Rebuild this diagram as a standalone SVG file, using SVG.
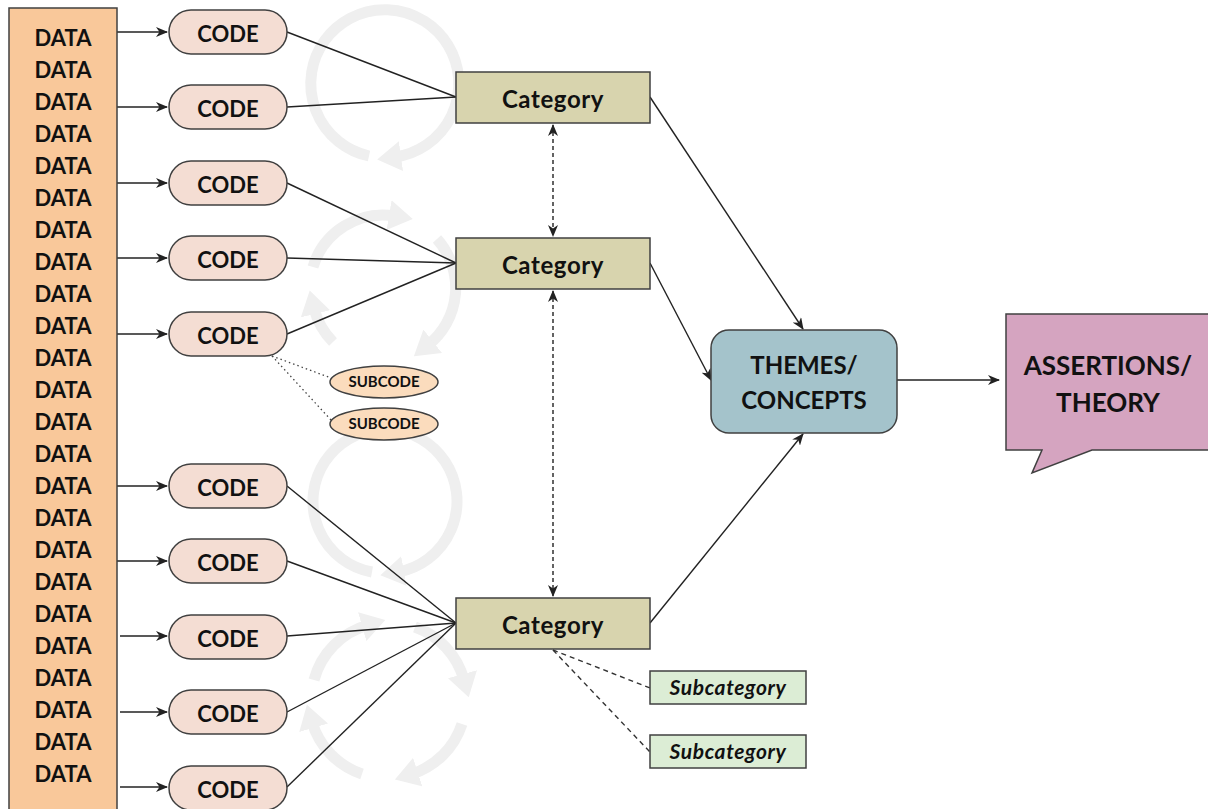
<svg xmlns="http://www.w3.org/2000/svg" width="1208" height="809" viewBox="0 0 1208 809">
  <defs>
    <style>
      text { font-family: Lato, "Open Sans", "Liberation Sans", sans-serif; font-weight: bold; fill: #111; text-anchor: middle; }
      .data { font-size: 22px; }
      .code { font-size: 22px; }
      .cat { font-size: 24px; letter-spacing: 0.6px; }
      .big { font-size: 24px; }
      .huge { font-size: 26px; }
      .sub { font-size: 15px; }
      .subcat { font-size: 21px; font-style: italic; letter-spacing: 0.6px; }
      .box { stroke: #404040; stroke-width: 1.5; }
      .link { stroke: #222; stroke-width: 1.4; fill: none; }
      .ring { stroke: #efefef; stroke-width: 11; fill: none; }
    </style>
    <marker id="arr" viewBox="0 0 12 10" refX="11" refY="5" markerWidth="12" markerHeight="10" markerUnits="userSpaceOnUse" orient="auto-start-reverse">
      <path d="M0,0 L12,5 L0,10 L3.5,5 z" fill="#222"/>
    </marker>
    <marker id="ringhead" viewBox="0 0 30 30" refX="6" refY="15" markerWidth="30" markerHeight="30" markerUnits="userSpaceOnUse" orient="auto">
      <path d="M0,0 L24,15 L0,30 z" fill="#efefef"/>
    </marker>
  </defs>

  <rect width="1208" height="809" fill="#ffffff"/>

  <!-- faint cycle rings behind the coding stage -->
  <g id="cycles">
    <!-- upper ring -->
    <path class="ring" d="M369,156 A74,74 0 1 1 395,157" marker-end="url(#ringhead)"/>
    <!-- second ring, three arcs -->
    <path class="ring" d="M333,342 A73,73 0 0 1 314,308" marker-end="url(#ringhead)"/>
    <path class="ring" d="M313,267 A73,73 0 0 1 395,216" marker-end="url(#ringhead)"/>
    <path class="ring" d="M437,239 A73,73 0 0 1 428,345" marker-end="url(#ringhead)"/>
    <!-- third ring -->
    <path class="ring" d="M372,572 A72,72 0 1 1 398,572" marker-end="url(#ringhead)"/>
    <!-- lower ring, four arcs -->
    <path class="ring" d="M314,680 A78,78 0 0 1 368,625" marker-end="url(#ringhead)"/>
    <path class="ring" d="M415,627 A78,78 0 0 1 464,680" marker-end="url(#ringhead)"/>
    <path class="ring" d="M462,724 A78,78 0 0 1 412,774" marker-end="url(#ringhead)"/>
    <path class="ring" d="M362,774 A78,78 0 0 1 312,722" marker-end="url(#ringhead)"/>
  </g>

  <g id="connectors">
    <!-- data to codes -->
    <line class="link" x1="117" y1="32" x2="167" y2="32" marker-end="url(#arr)"/>
    <line class="link" x1="117" y1="107" x2="167" y2="107" marker-end="url(#arr)"/>
    <line class="link" x1="117" y1="183" x2="167" y2="183" marker-end="url(#arr)"/>
    <line class="link" x1="117" y1="258" x2="167" y2="258" marker-end="url(#arr)"/>
    <line class="link" x1="117" y1="334" x2="167" y2="334" marker-end="url(#arr)"/>
    <line class="link" x1="117" y1="486" x2="167" y2="486" marker-end="url(#arr)"/>
    <line class="link" x1="117" y1="561" x2="167" y2="561" marker-end="url(#arr)"/>
    <line class="link" x1="120" y1="636" x2="167" y2="636" marker-end="url(#arr)"/>
    <line class="link" x1="120" y1="712" x2="167" y2="712" marker-end="url(#arr)"/>
    <line class="link" x1="120" y1="787" x2="167" y2="787" marker-end="url(#arr)"/>
    <!-- codes to categories -->
    <line class="link" x1="287" y1="32" x2="456" y2="97"/>
    <line class="link" x1="287" y1="107" x2="456" y2="97"/>
    <line class="link" x1="287" y1="183" x2="456" y2="263"/>
    <line class="link" x1="287" y1="258" x2="456" y2="263"/>
    <line class="link" x1="287" y1="334" x2="456" y2="263"/>
    <line class="link" x1="287" y1="486" x2="456" y2="623"/>
    <line class="link" x1="287" y1="561" x2="456" y2="623"/>
    <line class="link" x1="287" y1="636" x2="456" y2="623"/>
    <line class="link" x1="287" y1="712" x2="456" y2="623"/>
    <line class="link" x1="287" y1="787" x2="456" y2="623"/>
    <!-- code to subcodes -->
    <line x1="272" y1="356" x2="331" y2="378" stroke="#444" stroke-width="1.3" stroke-dasharray="1.5 3"/>
    <line x1="272" y1="356" x2="331" y2="420" stroke="#444" stroke-width="1.3" stroke-dasharray="1.5 3"/>
    <!-- between categories -->
    <line class="link" x1="553" y1="125" x2="553" y2="236" stroke-dasharray="4 3" marker-start="url(#arr)" marker-end="url(#arr)"/>
    <line class="link" x1="553" y1="291" x2="553" y2="596" stroke-dasharray="4 3" marker-start="url(#arr)" marker-end="url(#arr)"/>
    <!-- category to subcategories -->
    <line x1="553" y1="650" x2="650" y2="688" stroke="#333" stroke-width="1.4" stroke-dasharray="5 4"/>
    <line x1="553" y1="650" x2="650" y2="752" stroke="#333" stroke-width="1.4" stroke-dasharray="5 4"/>
    <!-- categories to themes -->
    <line class="link" x1="650" y1="97" x2="803" y2="329" marker-end="url(#arr)"/>
    <line class="link" x1="650" y1="263" x2="711" y2="380" marker-end="url(#arr)"/>
    <line class="link" x1="650" y1="623" x2="803" y2="434" marker-end="url(#arr)"/>
    <!-- themes to theory -->
    <line class="link" x1="897" y1="380" x2="999" y2="380" marker-end="url(#arr)"/>
  </g>

  <g id="data">
    <rect class="box" x="9" y="8" width="108" height="810" fill="#f9c89a"/>
    <text class="data" x="63" y="46">DATA</text>
    <text class="data" x="63" y="78">DATA</text>
    <text class="data" x="63" y="110">DATA</text>
    <text class="data" x="63" y="142">DATA</text>
    <text class="data" x="63" y="174">DATA</text>
    <text class="data" x="63" y="206">DATA</text>
    <text class="data" x="63" y="238">DATA</text>
    <text class="data" x="63" y="270">DATA</text>
    <text class="data" x="63" y="302">DATA</text>
    <text class="data" x="63" y="334">DATA</text>
    <text class="data" x="63" y="366">DATA</text>
    <text class="data" x="63" y="398">DATA</text>
    <text class="data" x="63" y="430">DATA</text>
    <text class="data" x="63" y="462">DATA</text>
    <text class="data" x="63" y="494">DATA</text>
    <text class="data" x="63" y="526">DATA</text>
    <text class="data" x="63" y="558">DATA</text>
    <text class="data" x="63" y="590">DATA</text>
    <text class="data" x="63" y="622">DATA</text>
    <text class="data" x="63" y="654">DATA</text>
    <text class="data" x="63" y="686">DATA</text>
    <text class="data" x="63" y="718">DATA</text>
    <text class="data" x="63" y="750">DATA</text>
    <text class="data" x="63" y="782">DATA</text>
  </g>

  <g id="code-1"><rect class="box" x="169" y="10" width="118" height="44" rx="22" fill="#f4ddd3"/><text class="code" x="228" y="42">CODE</text></g>
  <g id="code-2"><rect class="box" x="169" y="85" width="118" height="44" rx="22" fill="#f4ddd3"/><text class="code" x="228" y="117">CODE</text></g>
  <g id="code-3"><rect class="box" x="169" y="161" width="118" height="44" rx="22" fill="#f4ddd3"/><text class="code" x="228" y="193">CODE</text></g>
  <g id="code-4"><rect class="box" x="169" y="236" width="118" height="44" rx="22" fill="#f4ddd3"/><text class="code" x="228" y="268">CODE</text></g>
  <g id="code-5"><rect class="box" x="169" y="312" width="118" height="44" rx="22" fill="#f4ddd3"/><text class="code" x="228" y="344">CODE</text></g>
  <g id="code-6"><rect class="box" x="169" y="464" width="118" height="44" rx="22" fill="#f4ddd3"/><text class="code" x="228" y="496">CODE</text></g>
  <g id="code-7"><rect class="box" x="169" y="539" width="118" height="44" rx="22" fill="#f4ddd3"/><text class="code" x="228" y="571">CODE</text></g>
  <g id="code-8"><rect class="box" x="169" y="615" width="118" height="44" rx="22" fill="#f4ddd3"/><text class="code" x="228" y="647">CODE</text></g>
  <g id="code-9"><rect class="box" x="169" y="690" width="118" height="44" rx="22" fill="#f4ddd3"/><text class="code" x="228" y="722">CODE</text></g>
  <g id="code-10"><rect class="box" x="169" y="766" width="118" height="44" rx="22" fill="#f4ddd3"/><text class="code" x="228" y="798">CODE</text></g>

  <g id="subcode-1"><ellipse class="box" cx="384" cy="382" rx="54" ry="16" fill="#fbdcbd"/><text class="sub" x="384" y="387">SUBCODE</text></g>
  <g id="subcode-2"><ellipse class="box" cx="384" cy="424" rx="54" ry="16" fill="#fbdcbd"/><text class="sub" x="384" y="429">SUBCODE</text></g>

  <g id="category-1"><rect class="box" x="456" y="72" width="194" height="51" fill="#d8d4ae"/><text class="cat" x="553" y="108">Category</text></g>
  <g id="category-2"><rect class="box" x="456" y="238" width="194" height="51" fill="#d8d4ae"/><text class="cat" x="553" y="274">Category</text></g>
  <g id="category-3"><rect class="box" x="456" y="598" width="194" height="51" fill="#d8d4ae"/><text class="cat" x="553" y="634">Category</text></g>

  <g id="subcategory-1"><rect class="box" x="650" y="671" width="156" height="33" fill="#dcedd5"/><text class="subcat" x="728" y="695">Subcategory</text></g>
  <g id="subcategory-2"><rect class="box" x="650" y="735" width="156" height="33" fill="#dcedd5"/><text class="subcat" x="728" y="759">Subcategory</text></g>

  <g id="themes">
    <rect class="box" x="711" y="330" width="186" height="103" rx="18" fill="#a4c3cb"/>
    <text class="big" x="804" y="374">THEMES/</text>
    <text class="big" x="804" y="409">CONCEPTS</text>
  </g>

  <g id="theory">
    <path class="box" d="M1006,314 H1212 V450 H1092 L1032,473 L1042,450 H1006 Z" fill="#d5a4c0"/>
    <text class="huge" x="1108" y="375">ASSERTIONS/</text>
    <text class="huge" x="1108" y="412">THEORY</text>
  </g>
</svg>
